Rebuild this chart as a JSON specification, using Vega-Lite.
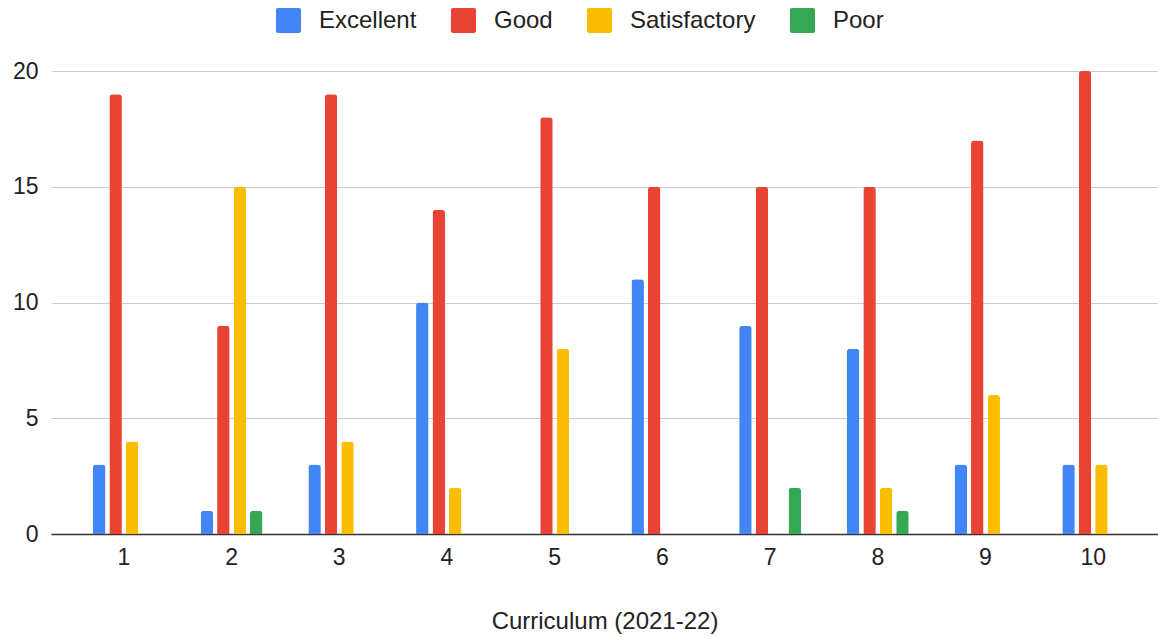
{
  "$schema": "https://vega.github.io/schema/vega-lite/v6.json",
  "autosize": {"type": "none"},
  "padding": {"left": 51, "top": 71, "right": 0, "bottom": 103},
  "width": 1107,
  "height": 463,
  "background": "white",
  "config": {
    "font": "Liberation Sans",
    "view": {"stroke": null}
  },
  "data": {
    "values": [
      {"curriculum": 1, "rating": "Excellent", "count": 3},
      {"curriculum": 1, "rating": "Good", "count": 19},
      {"curriculum": 1, "rating": "Satisfactory", "count": 4},
      {"curriculum": 1, "rating": "Poor", "count": 0},
      {"curriculum": 2, "rating": "Excellent", "count": 1},
      {"curriculum": 2, "rating": "Good", "count": 9},
      {"curriculum": 2, "rating": "Satisfactory", "count": 15},
      {"curriculum": 2, "rating": "Poor", "count": 1},
      {"curriculum": 3, "rating": "Excellent", "count": 3},
      {"curriculum": 3, "rating": "Good", "count": 19},
      {"curriculum": 3, "rating": "Satisfactory", "count": 4},
      {"curriculum": 3, "rating": "Poor", "count": 0},
      {"curriculum": 4, "rating": "Excellent", "count": 10},
      {"curriculum": 4, "rating": "Good", "count": 14},
      {"curriculum": 4, "rating": "Satisfactory", "count": 2},
      {"curriculum": 4, "rating": "Poor", "count": 0},
      {"curriculum": 5, "rating": "Excellent", "count": 0},
      {"curriculum": 5, "rating": "Good", "count": 18},
      {"curriculum": 5, "rating": "Satisfactory", "count": 8},
      {"curriculum": 5, "rating": "Poor", "count": 0},
      {"curriculum": 6, "rating": "Excellent", "count": 11},
      {"curriculum": 6, "rating": "Good", "count": 15},
      {"curriculum": 6, "rating": "Satisfactory", "count": 0},
      {"curriculum": 6, "rating": "Poor", "count": 0},
      {"curriculum": 7, "rating": "Excellent", "count": 9},
      {"curriculum": 7, "rating": "Good", "count": 15},
      {"curriculum": 7, "rating": "Satisfactory", "count": 0},
      {"curriculum": 7, "rating": "Poor", "count": 2},
      {"curriculum": 8, "rating": "Excellent", "count": 8},
      {"curriculum": 8, "rating": "Good", "count": 15},
      {"curriculum": 8, "rating": "Satisfactory", "count": 2},
      {"curriculum": 8, "rating": "Poor", "count": 1},
      {"curriculum": 9, "rating": "Excellent", "count": 3},
      {"curriculum": 9, "rating": "Good", "count": 17},
      {"curriculum": 9, "rating": "Satisfactory", "count": 6},
      {"curriculum": 9, "rating": "Poor", "count": 0},
      {"curriculum": 10, "rating": "Excellent", "count": 3},
      {"curriculum": 10, "rating": "Good", "count": 20},
      {"curriculum": 10, "rating": "Satisfactory", "count": 3},
      {"curriculum": 10, "rating": "Poor", "count": 0}
    ]
  },
  "mark": {"type": "bar", "cornerRadiusTopLeft": 3, "cornerRadiusTopRight": 3},
  "encoding": {
    "x": {
      "field": "curriculum",
      "type": "ordinal",
      "title": "Curriculum (2021-22)",
      "scale": {"paddingInner": 0.426, "paddingOuter": 0.352, "align": 0.553},
      "axis": {
        "labelAngle": 0,
        "labelFontSize": 23,
        "labelColor": "#222222",
        "labelPadding": 12,
        "ticks": false,
        "domainColor": "#333333",
        "domainWidth": 1.3,
        "titleFontSize": 24,
        "titleFontWeight": "normal",
        "titleColor": "#222222",
        "titlePadding": 40
      }
    },
    "xOffset": {
      "field": "rating",
      "type": "nominal",
      "sort": ["Excellent", "Good", "Satisfactory", "Poor"],
      "scale": {"paddingInner": 0.24, "paddingOuter": 0}
    },
    "y": {
      "field": "count",
      "type": "quantitative",
      "title": null,
      "scale": {"domain": [0, 20], "nice": false},
      "axis": {
        "values": [0, 5, 10, 15, 20],
        "labelFontSize": 23,
        "labelColor": "#222222",
        "labelPadding": 13,
        "ticks": false,
        "domain": false,
        "gridColor": "#cccccc",
        "gridWidth": 1
      }
    },
    "color": {
      "field": "rating",
      "type": "nominal",
      "sort": ["Excellent", "Good", "Satisfactory", "Poor"],
      "scale": {
        "domain": ["Excellent", "Good", "Satisfactory", "Poor"],
        "range": ["#4285F4", "#EA4335", "#FBBC04", "#34A853"]
      },
      "legend": {
        "title": null,
        "orient": "none",
        "direction": "horizontal",
        "legendX": 225,
        "legendY": -63,
        "symbolType": "M-0.84,-1H0.84Q1,-1 1,-0.84V0.84Q1,1 0.84,1H-0.84Q-1,1 -1,0.84V-0.84Q-1,-1 -0.84,-1Z",
        "symbolSize": 625,
        "symbolStrokeWidth": 0,
        "symbolOpacity": 1,
        "labelFontSize": 24,
        "labelColor": "#222222",
        "labelOffset": 18,
        "columnPadding": 34
      }
    }
  }
}
